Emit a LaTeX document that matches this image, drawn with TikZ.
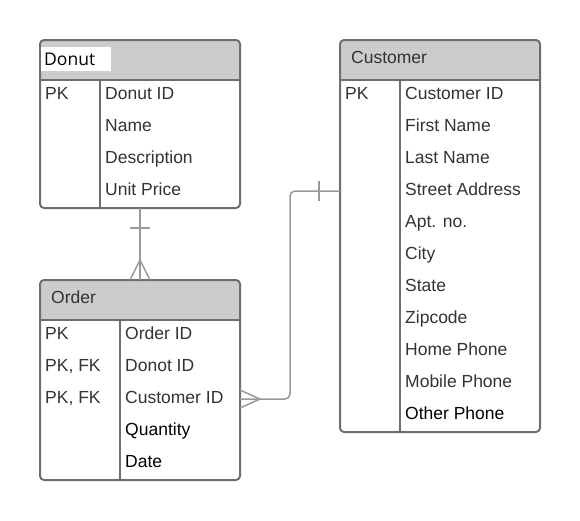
\documentclass[tikz,border=0pt]{standalone}
\usepackage{fontspec}
\setmainfont{Liberation Sans}
\newfontfamily\tieude{Open Sans}
\definecolor{vien}{HTML}{6E6E6E}
\definecolor{nen}{HTML}{CCCCCC}
\definecolor{chu}{HTML}{333333}
\definecolor{noi}{HTML}{999999}
\tikzset{
	bang/.style={draw=vien,line width=2pt,rounded corners=4pt,fill=white,anchor=north west,
		outer sep=0pt,inner sep=0pt,minimum width=200pt,
		path picture={\fill[nen] (path picture bounding box.north west) rectangle ([yshift=-40pt]path picture bounding box.north east);}},
	vach/.style={draw=vien,line width=2pt},
	chuxam/.style={anchor=base west,inner sep=0pt,text=chu,font=\fontsize{17.5}{20}\selectfont},
	lnk/.style={draw=noi,line width=1.5pt}
}
\begin{document}
\begin{tikzpicture}[x=1pt,y=-1pt,line join=round]
	\useasboundingbox (0,0) rectangle (580,520);
	%==Bảng Donut
	\node[bang,minimum height=168pt] (donut) at (40,40) {};
	\draw[vach] ([yshift=-40pt]donut.north west)--([yshift=-40pt]donut.north east);
	\draw[vach] ([shift={(60,40)}]donut.north west)--([xshift=60pt]donut.south west);
	\node[fill=white,anchor=north west,minimum height=24pt,text width=64pt,inner xsep=3pt,inner ysep=0pt,align=left,
		font=\tieude\fontsize{17.5}{20}\selectfont] (tDonut) at (41,47) {Donut};
	\node[chuxam] (kDonut) at (45,99) {PK};
	\foreach \t [count=\i] in {Donut ID,Name,Description,Unit Price}
	\node[chuxam] (d\i) at (105,{67+32*\i}) {\t};
	%==Bảng Order
	\node[bang,minimum height=200pt] (order) at (40,280) {};
	\draw[vach] ([yshift=-40pt]order.north west)--([yshift=-40pt]order.north east);
	\draw[vach] ([shift={(80,40)}]order.north west)--([xshift=80pt]order.south west);
	\node[chuxam] (tOrder) at (51,303) {Order};
	\foreach \t [count=\i] in {PK,{PK, FK},{PK, FK}}
	\node[chuxam] (ko\i) at (45,{307+32*\i}) {\t};
	\foreach \t/\c [count=\i] in {Order ID/chu,Donot ID/chu,Customer ID/chu,Quantity/black,Date/black}
	\node[chuxam,text=\c] (o\i) at (125,{307+32*\i}) {\t};
	%==Bảng Customer
	\node[bang,minimum height=392pt] (customer) at (340,40) {};
	\draw[vach] ([yshift=-40pt]customer.north west)--([yshift=-40pt]customer.north east);
	\draw[vach] ([shift={(60,40)}]customer.north west)--([xshift=60pt]customer.south west);
	\node[chuxam] (tCustomer) at (351,63) {Customer};
	\node[chuxam] (kCustomer) at (345,99) {PK};
	\foreach \t/\c [count=\i] in {Customer ID/chu,First Name/chu,Last Name/chu,Street Address/chu,Apt. no./chu,City/chu,State/chu,Zipcode/chu,Home Phone/chu,Mobile Phone/chu,Other Phone/black}
	\node[chuxam,text=\c] (c\i) at (405,{67+32*\i}) {\t};
	%==Đường nối
	\draw[lnk] (donut.south)--(order.north);
	\draw[lnk] ([shift={(-10,20)}]donut.south)--([shift={(10,20)}]donut.south);
	\draw[lnk] ([xshift=-10pt]order.north)--([yshift=20pt]order.north)--([xshift=10pt]order.north);
	\coordinate (kh) at ([yshift=-151pt]customer.north west);
	\coordinate (dh) at ([yshift=-119pt]order.north east);
	\draw[lnk,rounded corners=5pt] (kh)--++(-50,0)|-(dh);
	\draw[lnk] ([shift={(-21,-10)}]kh)--([shift={(-21,10)}]kh);
	\draw[lnk] ([yshift=9pt]dh)--([xshift=20pt]dh)--([yshift=-9pt]dh);
\end{tikzpicture}
\end{document}
